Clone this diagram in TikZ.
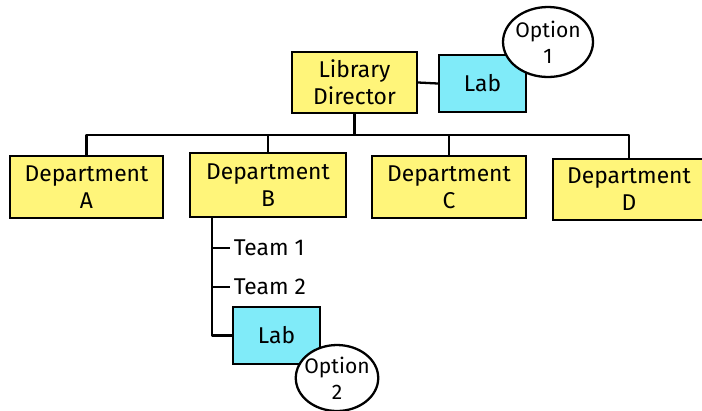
\documentclass[tikz,border=0pt]{standalone}
\usepackage{fontspec}
\setmainfont{Fira Sans}
\usepackage{xcolor}
\usepackage{tikz}
\usetikzlibrary{shapes.geometric}

\definecolor{postit}{RGB}{255,245,122}
\definecolor{labcyan}{RGB}{128,235,249}

\tikzset{
  unit/.style={draw,line width=1.3pt,fill=postit,align=center,font=\fontsize{13}{15.5}\selectfont},
  labbox/.style={draw,line width=1.3pt,fill=labcyan,minimum width=1.74cm,minimum height=1.14cm,font=\fontsize{13}{15.5}\selectfont},
  optionnote/.style={ellipse,draw,line width=1.3pt,fill=white,inner sep=-2pt,align=center,font=\fontsize{12}{15}\selectfont},
  team/.style={anchor=west,inner sep=2pt,font=\fontsize{13}{15.5}\selectfont},
  link/.style={line width=1.3pt,line join=round}
}

\begin{document}
\begin{tikzpicture}[x=0.02cm,y=-0.02cm]
\useasboundingbox (0,0) rectangle (702,410);
\node[unit,minimum width=2.5cm,minimum height=1.22cm] (director) at (354.5,82.5) {Library\\Director};
\node[labbox] (labTop) at (482.5,83.5) {Lab};
\node[unit,minimum width=3.06cm,minimum height=1.24cm] (deptA) at (86.5,187) {Department\\A};
\node[unit,minimum width=3.12cm,minimum height=1.28cm] (deptB) at (268,185) {Department\\B};
\node[unit,minimum width=3.08cm,minimum height=1.24cm] (deptC) at (449,187) {Department\\C};
\node[unit,minimum width=3.04cm,minimum height=1.22cm] (deptD) at (629,189.5) {Department\\D};
\node[team] (team1) at (230,248) {Team 1};
\node[team] (team2) at (230,287) {Team 2};
\node[labbox] (labB) at (276.5,335.5) {Lab};

\coordinate (bus) at (354.5,135);
\coordinate (treeB) at (212,217);
\draw[link] (director.east) -- (labTop.west);
\draw[link] (director.south) -- (bus);
\draw[link] (deptA.north) |- (bus);
\draw[link] (deptB.north) |- (bus);
\draw[link] (deptC.north) |- (bus);
\draw[link] (deptD.north) |- (bus);
\draw[link] (treeB) |- (team1.west);
\draw[link] (treeB) |- (team2.west);
\draw[link] (treeB) |- (labB.west);
\node[optionnote,minimum width=1.8cm,minimum height=1.4cm] (opt1) at (548,42) {Option\\1};
\node[optionnote,minimum width=1.56cm,minimum height=1.32cm] (opt2) at (337,378) {Option\\2};
\end{tikzpicture}
\end{document}
